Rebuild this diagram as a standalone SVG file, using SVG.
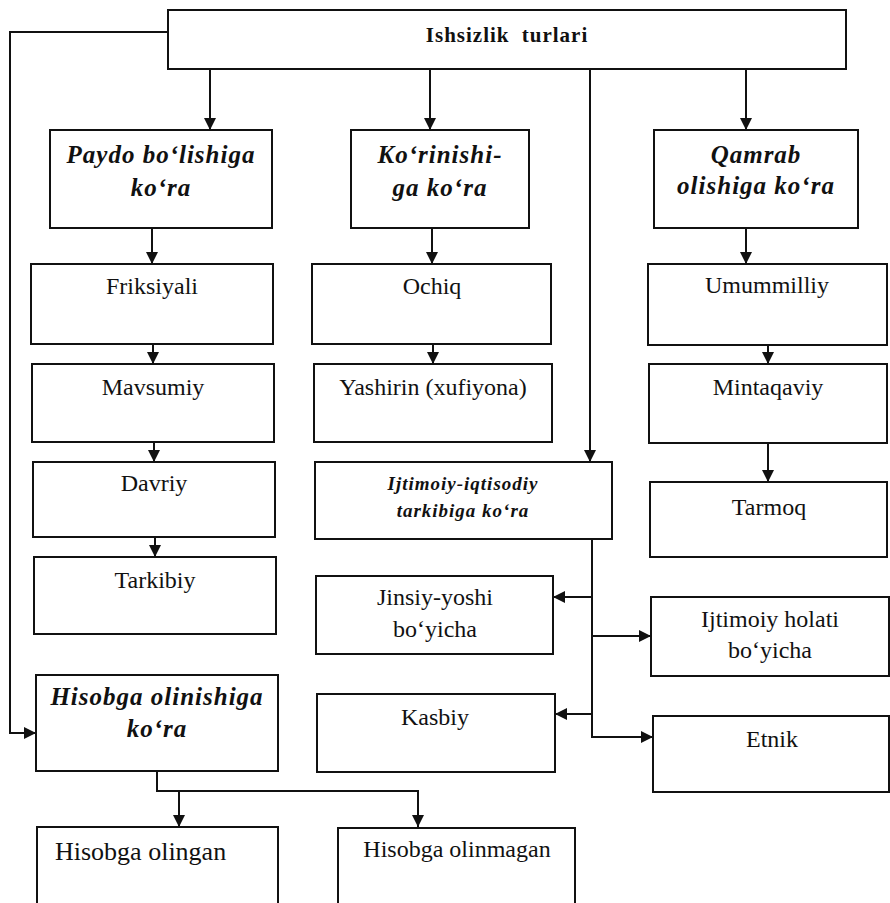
<svg xmlns="http://www.w3.org/2000/svg" width="890" height="903" viewBox="0 0 890 903">
<style>
.box{fill:#fff;stroke:#111;stroke-width:2}
.t{font-family:"Liberation Serif","Times New Roman",serif;font-size:24px;fill:#111;text-anchor:middle}
.h{font-family:"Liberation Serif","Times New Roman",serif;font-size:25px;font-weight:bold;font-style:italic;letter-spacing:1px;fill:#111;text-anchor:middle}
.hs{font-family:"Liberation Serif","Times New Roman",serif;font-size:19px;font-weight:bold;font-style:italic;letter-spacing:1px;fill:#111;text-anchor:middle}
.c{fill:none;stroke:#111;stroke-width:2}
</style>
<defs>
<marker id="ah" viewBox="0 0 12 12" markerWidth="12" markerHeight="12" refX="12" refY="6" orient="auto" markerUnits="userSpaceOnUse">
<path d="M0,0 L12,6 L0,12 z" fill="#111"/>
</marker>
</defs>
<rect width="890" height="903" fill="#fff"/>
<g id="connectors">
<path class="c" d="M210,69 V130" marker-end="url(#ah)"/>
<path class="c" d="M430,69 V130" marker-end="url(#ah)"/>
<path class="c" d="M590,69 V462" marker-end="url(#ah)"/>
<path class="c" d="M746,69 V130" marker-end="url(#ah)"/>
<path class="c" d="M168,32 H10 V733 H36" marker-end="url(#ah)"/>
<path class="c" d="M152,228 V264" marker-end="url(#ah)"/>
<path class="c" d="M432,228 V264" marker-end="url(#ah)"/>
<path class="c" d="M746,228 V264" marker-end="url(#ah)"/>
<path class="c" d="M153,344 V364" marker-end="url(#ah)"/>
<path class="c" d="M154,442 V462" marker-end="url(#ah)"/>
<path class="c" d="M155,537 V557" marker-end="url(#ah)"/>
<path class="c" d="M433,344 V364" marker-end="url(#ah)"/>
<path class="c" d="M768,345 V364" marker-end="url(#ah)"/>
<path class="c" d="M768,443 V482" marker-end="url(#ah)"/>
<path class="c" d="M592,539 V737 H653" marker-end="url(#ah)"/>
<path class="c" d="M592,597 H553" marker-end="url(#ah)"/>
<path class="c" d="M592,636 H651" marker-end="url(#ah)"/>
<path class="c" d="M592,714 H555" marker-end="url(#ah)"/>
<path class="c" d="M157,771 V791 H418 V827" marker-end="url(#ah)"/>
<path class="c" d="M179,791 V827" marker-end="url(#ah)"/>
</g>
<g id="n-top"><rect class="box" x="168" y="10" width="678" height="59"/>
<text x="507" y="42" font-family="Liberation Serif, Times New Roman, serif" font-size="21" font-weight="bold" letter-spacing="1" word-spacing="6" text-anchor="middle" fill="#111">Ishsizlik turlari</text></g>
<g id="n-paydo"><rect class="box" x="50" y="130" width="222" height="98"/>
<text class="h" x="161" y="163">Paydo bo‘lishiga</text><text class="h" x="161" y="196">ko‘ra</text></g>
<g id="n-korinishi"><rect class="box" x="351" y="130" width="178" height="98"/>
<text class="h" x="440" y="163">Ko‘rinishi-</text><text class="h" x="440" y="196">ga ko‘ra</text></g>
<g id="n-qamrab"><rect class="box" x="654" y="130" width="204" height="98"/>
<text class="h" x="756" y="163">Qamrab</text><text class="h" x="756" y="194">olishiga ko‘ra</text></g>
<g id="n-friksiyali"><rect class="box" x="31" y="264" width="242" height="80"/><text class="t" x="152" y="294">Friksiyali</text></g>
<g id="n-ochiq"><rect class="box" x="312" y="264" width="239" height="80"/><text class="t" x="432" y="294">Ochiq</text></g>
<g id="n-umummilliy"><rect class="box" x="648" y="264" width="239" height="81"/><text class="t" x="767" y="293">Umummilliy</text></g>
<g id="n-mavsumiy"><rect class="box" x="32" y="364" width="242" height="78"/><text class="t" x="153" y="395">Mavsumiy</text></g>
<g id="n-yashirin"><rect class="box" x="314" y="364" width="238" height="78"/><text class="t" x="433" y="395">Yashirin (xufiyona)</text></g>
<g id="n-mintaqaviy"><rect class="box" x="649" y="364" width="238" height="79"/><text class="t" x="768" y="395">Mintaqaviy</text></g>
<g id="n-davriy"><rect class="box" x="33" y="462" width="242" height="75"/><text class="t" x="154" y="491">Davriy</text></g>
<g id="n-ijtimoiy-iqtisodiy"><rect class="box" x="315" y="462" width="297" height="77"/>
<text class="hs" x="463" y="490">Ijtimoiy-iqtisodiy</text><text class="hs" x="463" y="517">tarkibiga ko‘ra</text></g>
<g id="n-tarmoq"><rect class="box" x="650" y="482" width="237" height="75"/><text class="t" x="769" y="515">Tarmoq</text></g>
<g id="n-tarkibiy"><rect class="box" x="34" y="557" width="242" height="77"/><text class="t" x="155" y="588">Tarkibiy</text></g>
<g id="n-jinsiy"><rect class="box" x="316" y="576" width="237" height="78"/>
<text class="t" x="435" y="605">Jinsiy-yoshi</text><text class="t" x="435" y="637">bo‘yicha</text></g>
<g id="n-ijtimoiy-holati"><rect class="box" x="651" y="597" width="238" height="79"/>
<text class="t" x="770" y="627">Ijtimoiy holati</text><text class="t" x="770" y="658">bo‘yicha</text></g>
<g id="n-kasbiy"><rect class="box" x="317" y="694" width="238" height="78"/><text class="t" x="435" y="725">Kasbiy</text></g>
<g id="n-etnik"><rect class="box" x="653" y="716" width="236" height="76"/><text class="t" x="772" y="747">Etnik</text></g>
<g id="n-hisobga"><rect class="box" x="36" y="675" width="242" height="96"/>
<text class="h" x="157" y="705">Hisobga olinishiga</text><text class="h" x="157" y="737">ko‘ra</text></g>
<g id="n-olingan"><rect class="box" x="37" y="827" width="241" height="90"/>
<text class="t" x="55" y="860" style="text-anchor:start;font-size:26px">Hisobga olingan</text></g>
<g id="n-olinmagan"><rect class="box" x="338" y="828" width="237" height="90"/>
<text class="t" x="457" y="857">Hisobga olinmagan</text></g>
</svg>
